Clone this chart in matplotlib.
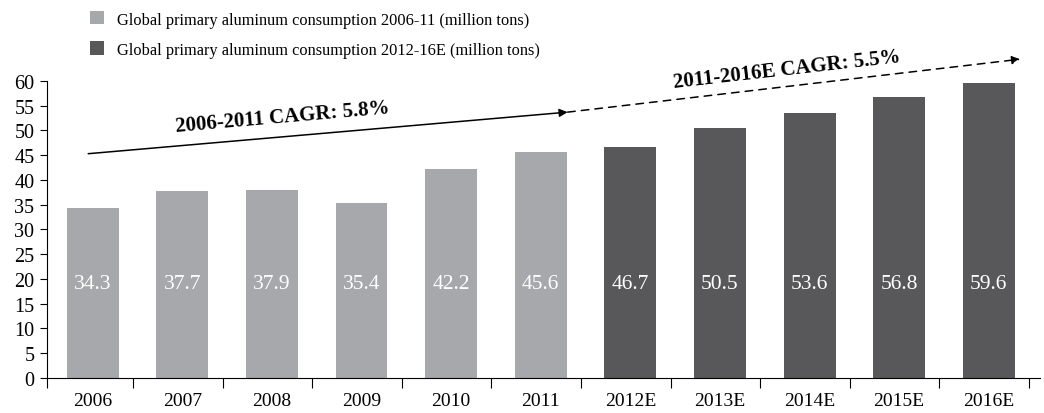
import numpy as np
import matplotlib
matplotlib.use("Agg")
import matplotlib.pyplot as plt

plt.rcParams['font.family'] = ['Liberation Serif', 'DejaVu Serif']

years = ['2006', '2007', '2008', '2009', '2010', '2011',
         '2012E', '2013E', '2014E', '2015E', '2016E']
hist_vals = [34.3, 37.7, 37.9, 35.4, 42.2, 45.6]
fcst_vals = [46.7, 50.5, 53.6, 56.8, 59.6]
hist_label = 'Global primary aluminum consumption 2006-11 (million tons)'
fcst_label = 'Global primary aluminum consumption 2012-16E (million tons)'
cagr1 = '2006-2011 CAGR: 5.8%'
cagr2 = '2011-2016E CAGR: 5.5%'

light = '#a7a8ab'
dark = '#58585a'

fig = plt.figure(figsize=(10.44, 4.14), dpi=100)
ax = fig.add_axes([0.045, 0.085, 0.951, 0.717])

x = np.arange(len(years))
nh = len(hist_vals)
ax.bar(x[:nh], hist_vals, width=0.58, color=light, label=hist_label)
ax.bar(x[nh:], fcst_vals, width=0.58, color=dark, label=fcst_label)

for xi, v in zip(x, hist_vals + fcst_vals):
    ax.text(xi, 19, f'{v:.1f}', color='white', ha='center', va='center', fontsize=15.5)

ax.set_xlim(-0.51, len(years) - 0.43)
ax.set_ylim(0, 60)
ax.set_yticks(np.arange(0, 61, 5))
ax.tick_params(axis='y', labelsize=14.5, length=5, pad=4)
ax.set_xticks(np.r_[-0.51, np.arange(0.45, len(years) - 0.5, 1)])
ax.set_xticklabels([])
ax.set_xticks(x, minor=True)
ax.set_xticklabels(years, minor=True)
ax.tick_params(axis='x', which='major', length=7, direction='out')
ax.tick_params(axis='x', which='minor', length=0, labelsize=14, pad=10)
ax.spines['top'].set_visible(False)
ax.spines['right'].set_visible(False)

# CAGR arrows
ax.annotate('', xy=(5.3, 53.7), xytext=(-0.05, 45.3),
            arrowprops=dict(arrowstyle='-|>', color='black', lw=1.1,
                            mutation_scale=12, shrinkA=0, shrinkB=0),
            annotation_clip=False)
ax.annotate('', xy=(10.35, 64.4), xytext=(5.3, 53.7),
            arrowprops=dict(arrowstyle='-|>', color='black', lw=1.1, ls=(0, (5, 4)),
                            mutation_scale=12, shrinkA=0, shrinkB=0),
            annotation_clip=False)
ax.text(2.12, 52.7, cagr1, fontsize=15, fontweight='bold', rotation=5,
        ha='center', va='center')
ax.text(7.75, 62.4, cagr2, fontsize=15, fontweight='bold', rotation=6.5,
        ha='center', va='center', clip_on=False)

fig.legend(loc='upper left', bbox_to_anchor=(0.075, 0.998), frameon=False,
           fontsize=11.8, handlelength=0.85, handleheight=0.85, handletextpad=0.8,
           labelspacing=0.85, borderaxespad=0.3)

fig.savefig('out.png', dpi=100)
